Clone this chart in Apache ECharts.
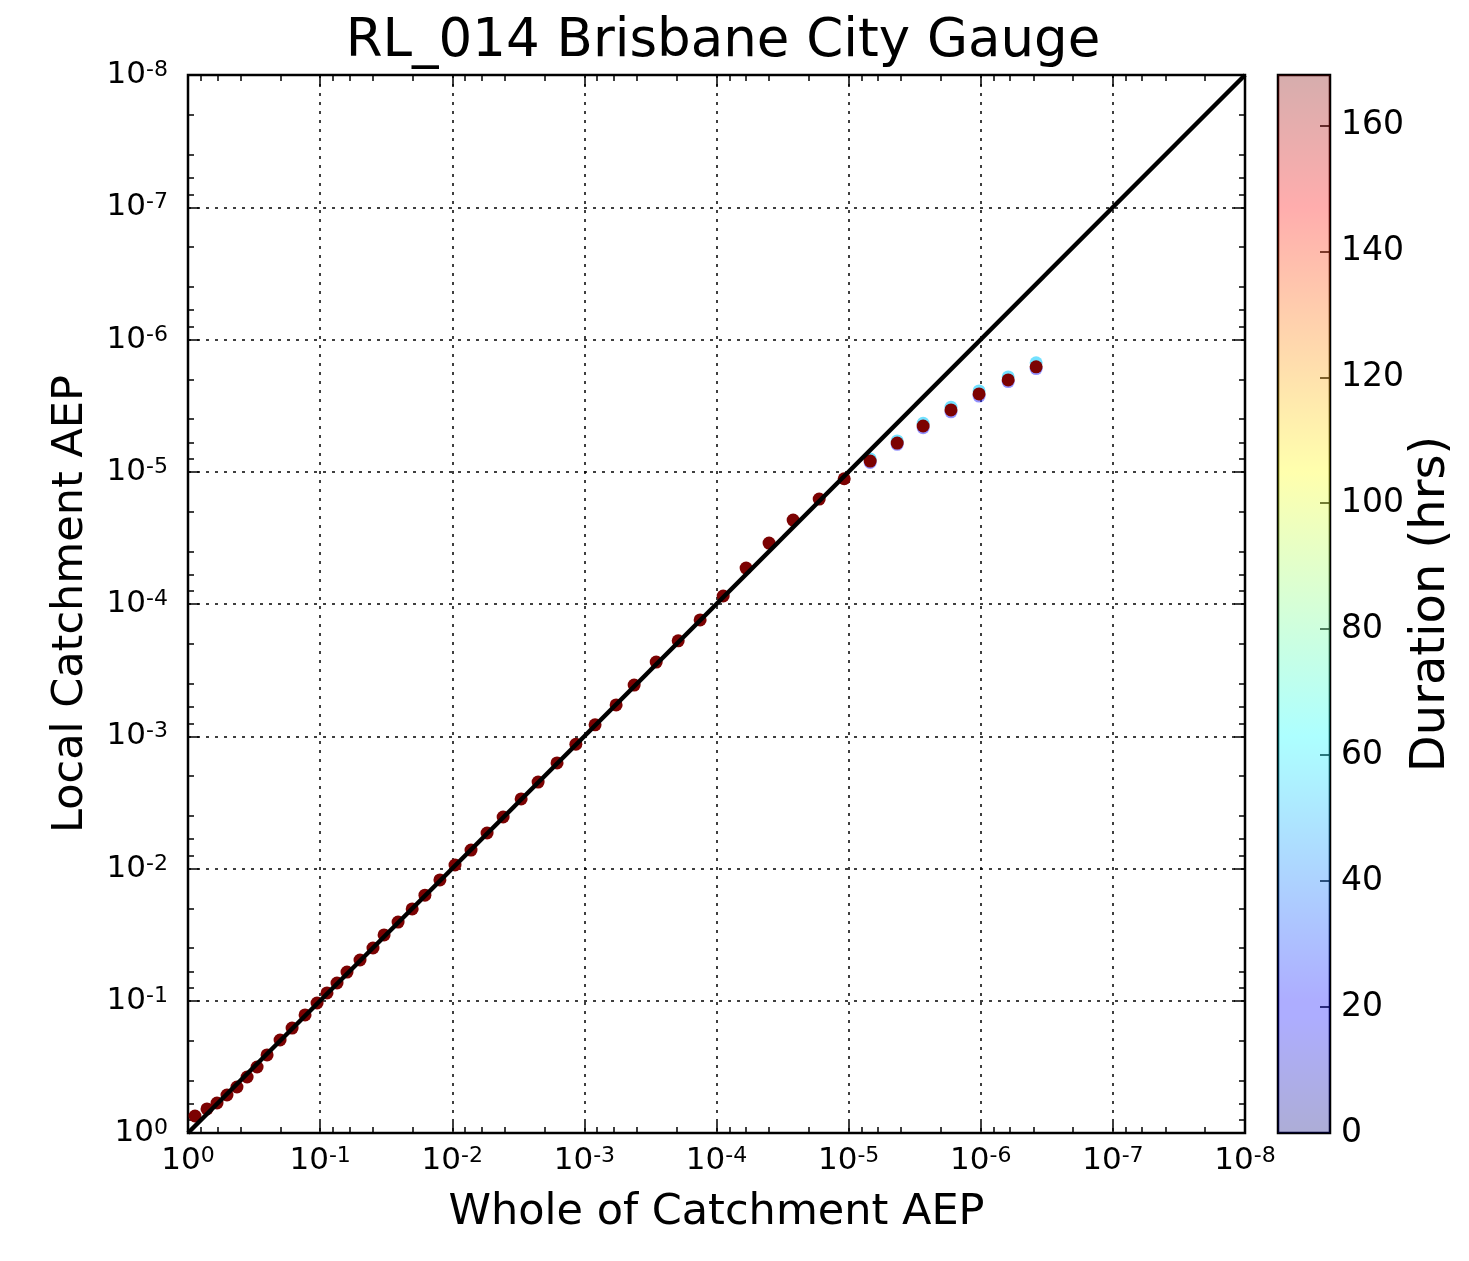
<!DOCTYPE html>
<html>
<head>
<meta charset="utf-8">
<script src="https://cdn.jsdelivr.net/npm/echarts@6/dist/echarts.min.js"></script>
<style>
html, body { margin: 0; padding: 0; background: #fff; }
#chart { width: 1469px; height: 1261px; }
</style>
</head>
<body>
<div id="chart"></div>
<script>
// values
var wholeAEP = [0.885, 0.718, 0.603, 0.507, 0.426, 0.357, 0.300, 0.252, 0.201, 0.163, 0.130, 0.1055,
  0.0887, 0.0745, 0.0626, 0.0499, 0.0398, 0.0328, 0.0257, 0.0201, 0.0161, 0.0124, 0.00953, 0.00721,
  0.00545, 0.00412, 0.00301, 0.00224, 0.00161, 0.00116, 0.00083, 0.000575, 0.00042, 0.000286,
  0.000195, 0.000133, 8.9e-5, 5.97e-5, 4.0e-5, 2.63e-5, 1.67e-5, 1.08e-5, 6.87e-6, 4.29e-6,
  2.73e-6, 1.68e-6, 1.03e-6, 6.2e-7, 3.81e-7];
var localAEP = [0.744, 0.658, 0.593, 0.516, 0.449, 0.377, 0.317, 0.257, 0.198, 0.161, 0.128, 0.104,
  0.0873, 0.0734, 0.0607, 0.0492, 0.0399, 0.0318, 0.0254, 0.0202, 0.0159, 0.0122, 0.00941, 0.00725,
  0.00539, 0.00408, 0.00298, 0.00222, 0.00159, 0.00115, 0.00082, 0.00058, 0.00041, 0.000275,
  0.000190, 0.000132, 8.7e-5, 5.35e-5, 3.46e-5, 2.32e-5, 1.61e-5, 1.13e-5, 8.3e-6, 6.07e-6,
  4.51e-6, 3.41e-6, 2.58e-6, 2.02e-6, 1.61e-6];
// shorter durations only separate from the long ones in the tail
var tailWhole = [6.87e-6, 4.29e-6, 2.73e-6, 1.68e-6, 1.03e-6, 6.2e-7, 3.81e-7];
var tailLocal48 = [8.0e-6, 5.85e-6, 4.3e-6, 3.25e-6, 2.45e-6, 1.92e-6, 1.5e-6];
var tailLocal24 = [8.5e-6, 6.2e-6, 4.65e-6, 3.52e-6, 2.68e-6, 2.08e-6, 1.66e-6];
var durations = [24, 48, 168];
var colorbarMax = 168;
var minorSubs = [2, 4, 6, 8];

var FONT = 'DejaVu Sans';

function pairs(xs, ys) {
  var out = [];
  for (var i = 0; i < xs.length; i++) out.push([xs[i], ys[i]]);
  return out;
}

var minorTicks = [];
for (var e = -8; e <= -1; e++) {
  for (var k = 0; k < minorSubs.length; k++) {
    minorTicks.push(minorSubs[k] * Math.pow(10, e));
  }
}

function powLabel(v) {
  var p = Math.round(Math.log10(v));
  return '{b|10}{s|' + p + '}';
}
var richPow = {
  b: { fontSize: 31, fontFamily: FONT, color: '#000', lineHeight: 31, padding: [9, 0, 0, 0], verticalAlign: 'bottom' },
  s: { fontSize: 22, fontFamily: FONT, color: '#000', lineHeight: 22, verticalAlign: 'top' }
};

function logAxis(grid, pos, opts) {
  var a = {
    gridIndex: grid,
    type: 'log',
    logBase: 10,
    min: 1e-8,
    max: 1,
    splitNumber: 8,
    inverse: true,
    position: pos,
    axisLine: { show: false },
    axisTick: { show: true, inside: true, length: 11, lineStyle: { color: '#000', width: 1.5 } },
    axisLabel: { show: false },
    splitLine: { show: false }
  };
  for (var key in opts) a[key] = opts[key];
  return a;
}

var grid = { left: 188, top: 75, width: 1057, height: 1058 };
var minorTick = { show: true, inside: true, length: 6, customValues: minorTicks, lineStyle: { color: '#000', width: 1.5 } };
var dotted = { show: true, lineStyle: { color: '#000', width: 1.5, type: [3, 6] } };

var chart = echarts.init(document.getElementById('chart'));
chart.setOption({
  animation: false,
  backgroundColor: '#fff',
  title: {
    text: 'RL_014 Brisbane City Gauge',
    left: 718,
    top: 11,
    textAlign: 'center',
    textStyle: { fontFamily: FONT, fontSize: 53, fontWeight: 'normal', color: '#000' }
  },
  grid: [
    { left: grid.left, top: grid.top, width: grid.width, height: grid.height, show: true, borderColor: '#000', borderWidth: 2.5, backgroundColor: 'transparent' },
    { left: grid.left, top: grid.top, width: grid.width, height: grid.height, show: false },
    { left: 1278, top: 75, width: 52, height: 1058, show: true, borderColor: '#000', borderWidth: 2.5, backgroundColor: 'transparent' }
  ],
  xAxis: [
    logAxis(0, 'bottom', {
      axisLabel: { show: true, formatter: powLabel, rich: richPow, margin: 12 },
      splitLine: dotted,
      name: 'Whole of Catchment AEP', nameLocation: 'middle', nameGap: 58,
      nameTextStyle: { fontFamily: FONT, fontSize: 43, color: '#000' }
    }),
    logAxis(0, 'top', {}),
    logAxis(1, 'bottom', { axisTick: minorTick }),
    logAxis(1, 'top', { axisTick: minorTick }),
    { gridIndex: 2, type: 'category', data: ['Duration'], show: false }
  ],
  yAxis: [
    logAxis(0, 'left', {
      axisLabel: { show: true, formatter: powLabel, rich: richPow, margin: 20 },
      splitLine: dotted,
      name: 'Local Catchment AEP', nameLocation: 'middle', nameGap: 96, nameRotate: 90,
      nameTextStyle: { fontFamily: FONT, fontSize: 43, color: '#000' }
    }),
    logAxis(0, 'right', {}),
    logAxis(1, 'left', { axisTick: minorTick }),
    logAxis(1, 'right', { axisTick: minorTick }),
    {
      gridIndex: 2, type: 'value', min: 0, max: colorbarMax, interval: 20, position: 'right',
      axisLine: { show: false },
      axisTick: { show: true, inside: true, length: 10, lineStyle: { color: '#000', width: 1.5 } },
      axisLabel: { show: true, showMaxLabel: false, margin: 11, fontFamily: FONT, fontSize: 33, color: '#000' },
      splitLine: { show: false },
      name: 'Duration (hrs)', nameLocation: 'middle', nameGap: 78, nameRotate: 90,
      nameTextStyle: { fontFamily: FONT, fontSize: 48, color: '#000' }
    }
  ],
  series: [
    {
      name: durations[0] + ' hrs', type: 'scatter', xAxisIndex: 0, yAxisIndex: 0,
      symbolSize: 13, data: pairs(tailWhole, tailLocal24),
      itemStyle: { color: 'rgba(40,40,255,0.5)', opacity: 1 }, z: 2
    },
    {
      name: durations[1] + ' hrs', type: 'scatter', xAxisIndex: 0, yAxisIndex: 0,
      symbolSize: 13, data: pairs(tailWhole, tailLocal48),
      itemStyle: { color: 'rgba(0,200,255,0.55)', opacity: 1 }, z: 3
    },
    {
      name: durations[2] + ' hrs', type: 'scatter', xAxisIndex: 0, yAxisIndex: 0,
      symbolSize: 13, data: pairs(wholeAEP, localAEP),
      itemStyle: { color: '#7c0202', opacity: 1 }, z: 4
    },
    {
      name: 'Equal AEP', type: 'line', xAxisIndex: 0, yAxisIndex: 0,
      data: [[1, 1], [1e-8, 1e-8]], showSymbol: false, symbol: 'none',
      lineStyle: { color: '#000', width: 4.5 }, z: 5
    },
    {
      name: 'Duration', type: 'bar', xAxisIndex: 4, yAxisIndex: 4,
      data: [colorbarMax], barWidth: '100%', silent: true,
      itemStyle: {
        color: {
          type: 'linear', x: 0, y: 1, x2: 0, y2: 0,
          colorStops: [
            { offset: 0, color: 'rgba(0,0,128,0.32)' },
            { offset: 0.11, color: 'rgba(0,0,255,0.32)' },
            { offset: 0.125, color: 'rgba(0,0,255,0.32)' },
            { offset: 0.34, color: 'rgba(0,220,255,0.32)' },
            { offset: 0.375, color: 'rgba(0,255,255,0.32)' },
            { offset: 0.5, color: 'rgba(128,255,128,0.32)' },
            { offset: 0.625, color: 'rgba(255,255,0,0.32)' },
            { offset: 0.75, color: 'rgba(255,128,0,0.32)' },
            { offset: 0.875, color: 'rgba(255,0,0,0.32)' },
            { offset: 1, color: 'rgba(128,0,0,0.32)' }
          ]
        }
      }
    }
  ]
});
</script>
</body>
</html>
